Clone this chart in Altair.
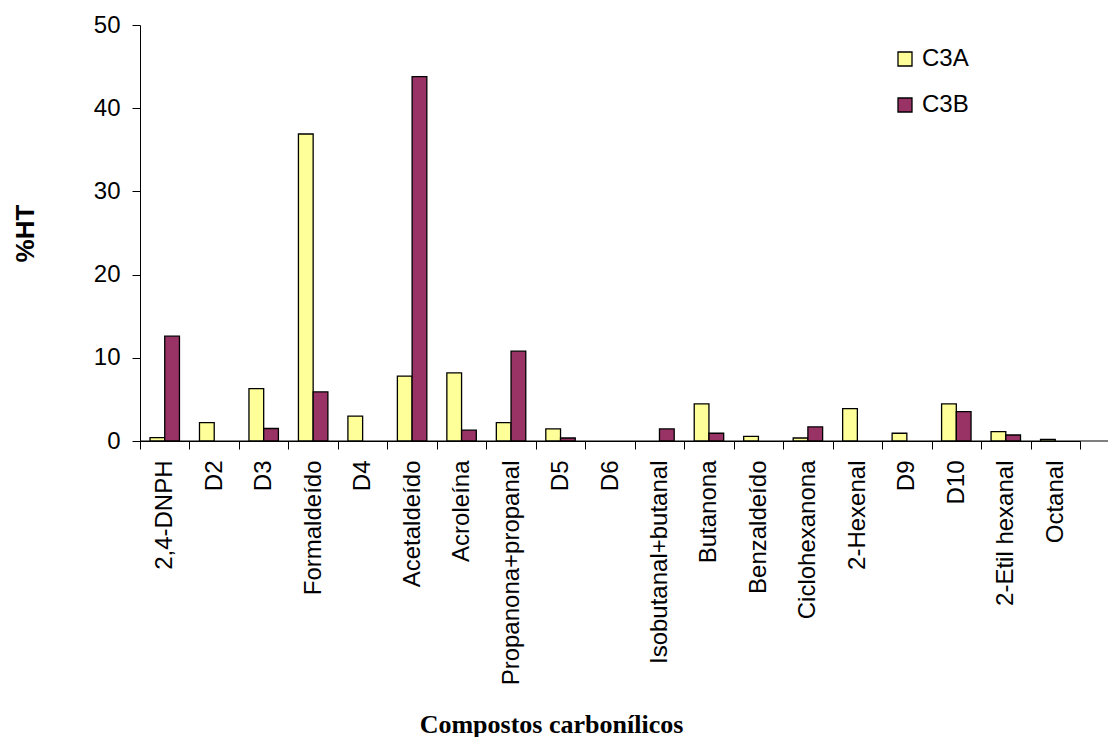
import altair as alt
import pandas as pd

categories = ["2,4-DNPH", "D2", "D3", "Formaldeído", "D4", "Acetaldeído", "Acroleína",
              "Propanona+propanal", "D5", "D6", "Isobutanal+butanal", "Butanona",
              "Benzaldeído", "Ciclohexanona", "2-Hexenal", "D9", "D10", "2-Etil hexanal", "Octanal"]
c3a = [0.4, 2.2, 6.3, 36.9, 3.0, 7.8, 8.2, 2.2, 1.45, None, None, 4.47, 0.56, 0.36, 3.9, 0.93, 4.47, 1.13, 0.2]
c3b = [12.6, None, 1.5, 5.9, None, 43.8, 1.3, 10.8, 0.36, None, 1.45, 0.93, None, 1.69, None, None, 3.54, 0.72, None]
series = ["C3A", "C3B"]
colors = ["#FFFF99", "#993366"]
y_ticks = [0, 10, 20, 30, 40, 50]

rows = []
for cat, a, b in zip(categories, c3a, c3b):
    if a is not None:
        rows.append({"cat": cat, "series": "C3A", "value": a})
    if b is not None:
        rows.append({"cat": cat, "series": "C3B", "value": b})
df = pd.DataFrame(rows)

W = 940
H = 416
FONT = "Liberation Sans"

bars = alt.Chart(df).mark_bar(stroke="black", strokeWidth=1.3).encode(
    x=alt.X("cat:N", scale=alt.Scale(domain=categories, paddingInner=0, paddingOuter=0),
            axis=alt.Axis(title="Compostos carbonílicos", labelAngle=-90, labelFontSize=24,
                          labelFont=FONT, labelColor="black", labelLimit=400, tickBand="extent",
                          tickSize=8, tickColor="black", domainColor="black", labelPadding=11,
                          titleFont="Liberation Serif", titleFontSize=26, titleFontWeight="bold",
                          titleColor="black", titleX=411, titleY=291, titleBaseline="alphabetic",
                          titleAlign="center")),
    xOffset=alt.XOffset("series:N", scale=alt.Scale(domain=series, paddingInner=0, paddingOuter=0.68)),
    y=alt.Y("value:Q", scale=alt.Scale(domain=[0, 50], nice=False),
            axis=alt.Axis(title="%HT", values=y_ticks, grid=False, labelFontSize=24, labelFont=FONT,
                          labelColor="black", tickSize=8, tickColor="black", domainColor="black",
                          labelPadding=12, titleFont=FONT, titleFontSize=26, titleFontWeight="bold",
                          titleColor="black", titleAngle=-90, titleX=-115, titleY=208,
                          titleBaseline="middle", titleAlign="center")),
    color=alt.Color("series:N", scale=alt.Scale(domain=series, range=colors),
                    legend=alt.Legend(title=None, orient="none", legendX=753, legendY=22,
                                      symbolType="square", symbolSize=196, symbolStrokeColor="black",
                                      symbolStrokeWidth=1.3, labelFontSize=24, labelFont=FONT,
                                      labelColor="black", labelOffset=5, rowPadding=22)),
)

axis_ext = alt.Chart(pd.DataFrame({"v": [0]})).mark_rule(color="black", strokeWidth=1).encode(
    x=alt.value(0), x2=alt.value(W + 28), y=alt.value(H)
)

chart = alt.layer(axis_ext, bars).properties(
    width=W, height=H,
    padding={"left": 132, "top": 17, "right": 30, "bottom": 296},
    autosize=alt.AutoSizeParams(type="none"),
).configure_view(stroke=None)

chart.save("out.html", embed_options={"renderer": "svg", "actions": False})
